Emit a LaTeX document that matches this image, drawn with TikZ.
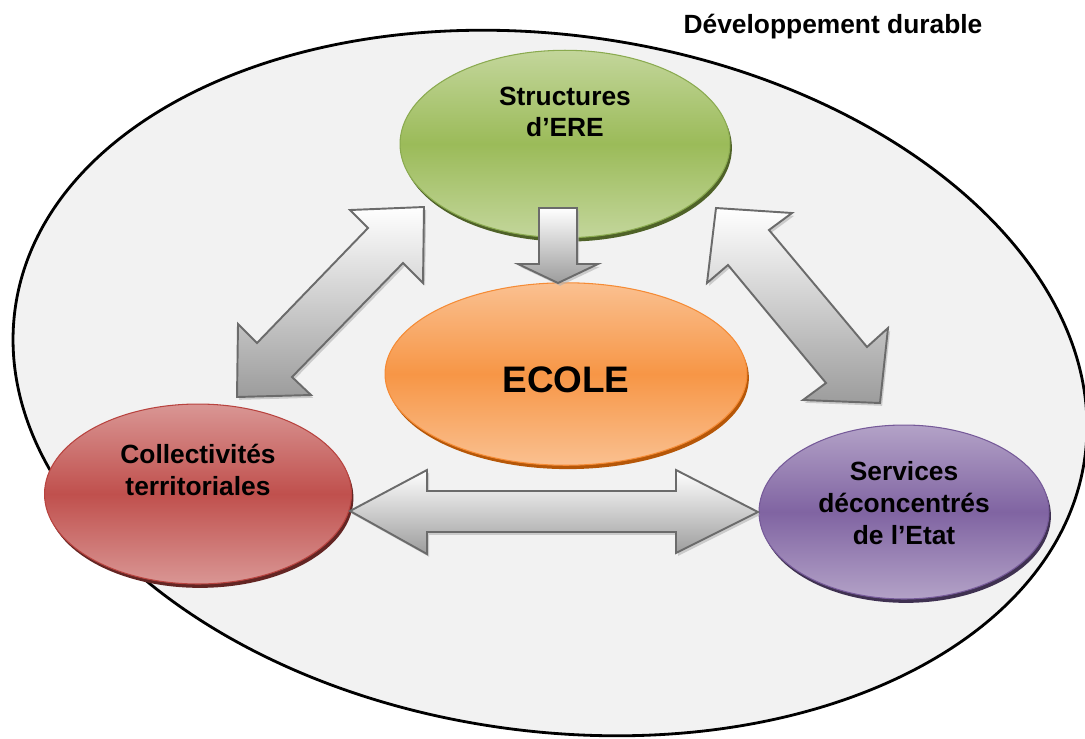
\documentclass[tikz,border=0pt]{standalone}
\usepackage{fontspec}
\setmainfont{Liberation Sans}
\usetikzlibrary{shapes.geometric,shadows}

\definecolor{fond}{HTML}{F2F2F2}
\definecolor{greenmid}{HTML}{9BBB59}
\definecolor{greenlight}{HTML}{C3D69B}
\definecolor{greenborder}{HTML}{8AAA4F}
\definecolor{greenrim}{HTML}{4F6228}
\definecolor{orangemid}{HTML}{F79646}
\definecolor{orangelight}{HTML}{FAC090}
\definecolor{orangeborder}{HTML}{F58B35}
\definecolor{orangerim}{HTML}{B65708}
\definecolor{redmid}{HTML}{C0504D}
\definecolor{redlight}{HTML}{D99694}
\definecolor{redborder}{HTML}{B8433F}
\definecolor{redrim}{HTML}{632523}
\definecolor{purplemid}{HTML}{8064A2}
\definecolor{purplelight}{HTML}{B3A2C7}
\definecolor{purpleborder}{HTML}{765A99}
\definecolor{purplerim}{HTML}{3F3151}
\definecolor{arrowline}{HTML}{6B6B6B}
\definecolor{arrowgray}{HTML}{9C9C9C}

\tikzset{
  bubble/.style={ellipse, inner sep=0pt, draw=#1border, line width=0.6pt,
    top color=#1light, bottom color=#1light, middle color=#1mid,
    general shadow={fill=#1rim, draw=none, shadow xshift=1.1pt, shadow yshift=-2.2pt}},
  caption/.style={align=center, font=\bfseries\fontsize{15}{18}\selectfont},
  blockarrow/.style={draw=arrowline, line width=1.1pt, line join=miter,
    top color=white, bottom color=arrowgray,
    general shadow={fill=gray!60, draw=none, opacity=.6, shadow xshift=1.2pt, shadow yshift=-1.6pt}}
}

\begin{document}
\begin{tikzpicture}[x=0.02cm, y=-0.02cm]
\useasboundingbox (0,0) rectangle (1085,738);
\clip (0,0) rectangle (1085,738);

% Outer field
\draw[fill=fond, line width=1.6pt, rotate around={-8:(550,383)}]
  (550,383) ellipse [x radius=540, y radius=348];
\node[caption] (dd) at (833,27) {Développement durable};

% Actors
\node[bubble=green, minimum width=6.6cm, minimum height=3.75cm] (ere) at (565,144) {};
\node[caption] (ere-t) at (565,112) {Structures\\d’ERE};

\node[bubble=orange, minimum width=7.24cm, minimum height=3.65cm] (ecole) at (566,374) {};
\node[caption, font=\bfseries\fontsize{21}{24}\selectfont] (ecole-t) at (566,380) {ECOLE};

\node[bubble=red, minimum width=6.14cm, minimum height=3.6cm] (coll) at (198,494) {};
\node[caption] (coll-t) at (198,470) {Collectivités\\territoriales};

\node[bubble=purple, minimum width=5.8cm, minimum height=3.48cm] (serv) at (904,512) {};
\node[caption] (serv-t) at (904,503) {Services\\déconcentrés\\de l’Etat};

% Block arrows
\path[blockarrow] (539,208) -- (577,208) -- (577,264) -- (598,264) -- (558,283)
  -- (518,264) -- (539,264) -- cycle;
\path[blockarrow] (424,207) -- (423,283) -- (403,263) -- (292,377) -- (311,395)
  -- (237,397) -- (238,324) -- (257,343) -- (368,228) -- (350,210) -- cycle;
\path[blockarrow] (716,208) -- (792,213) -- (769,230) -- (867,347) -- (888,328)
  -- (880,403) -- (803,400) -- (826,383) -- (728,265) -- (707,283) -- cycle;
\path[blockarrow] (350,511) -- (427,470) -- (427,491) -- (676,491) -- (676,470)
  -- (758,512) -- (676,553) -- (676,532) -- (427,532) -- (427,554) -- cycle;
\end{tikzpicture}
\end{document}
